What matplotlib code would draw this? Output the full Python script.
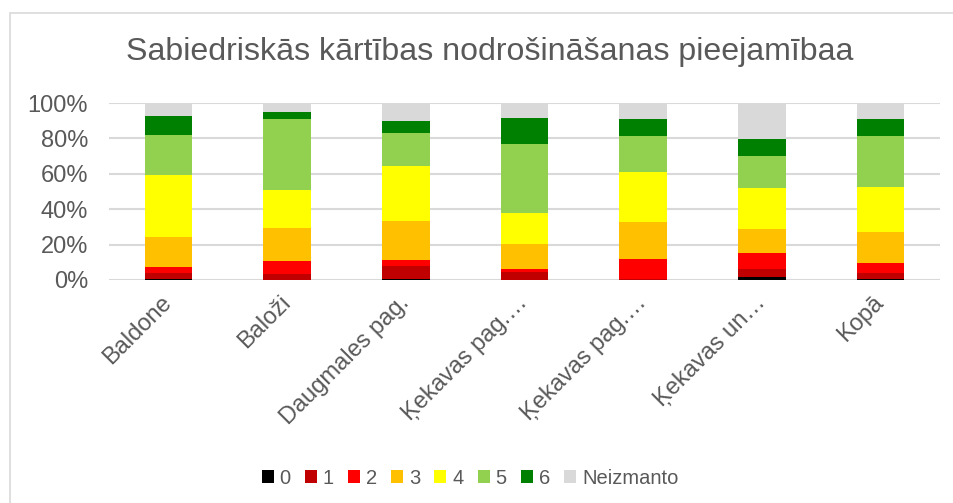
import matplotlib
matplotlib.use("Agg")
import matplotlib.pyplot as plt
from matplotlib.patches import Rectangle
import numpy as np

plt.rcParams['font.family'] = ['Liberation Sans', 'DejaVu Sans']

title = "Sabiedriskās kārtības nodrošināšanas pieejamībaa"
categories = ["Baldone", "Baloži", "Daugmales pag.", "Ķekavas pag.…",
              "Ķekavas pag.…", "Ķekavas un…", "Kopā"]
series_names = ["0", "1", "2", "3", "4", "5", "6", "Neizmanto"]
colors = ["#000000", "#C00000", "#FF0000", "#FFC000", "#FFFF00",
          "#92D050", "#008000", "#D9D9D9"]

# shares in percent, one list per answer grade
s0 = [0.8, 0.0, 0.8, 0.0, 0.0, 1.5, 0.6]
s1 = [3.0, 3.2, 7.0, 4.4, 0.5, 4.7, 3.4]
s2 = [3.8, 7.4, 3.4, 1.7, 11.4, 9.1, 5.7]
s3 = [16.8, 18.8, 21.9, 14.2, 20.7, 13.7, 17.6]
s4 = [34.9, 21.4, 31.1, 17.4, 28.4, 22.9, 25.4]
s5 = [22.5, 40.3, 18.8, 39.2, 20.6, 18.4, 28.4]
s6 = [11.0, 3.8, 6.6, 14.8, 9.1, 9.1, 9.6]
s_none = [7.2, 5.1, 10.4, 8.3, 9.3, 20.6, 9.3]
series = [s0, s1, s2, s3, s4, s5, s6, s_none]

W, H = 954, 503
fig = plt.figure(figsize=(W / 100, H / 100), dpi=100)
fig.patch.set_facecolor("white")

# chart frame
fig.patches.append(Rectangle((10 / W, -0.1), 1.2, 1 - 13 / H + 0.1,
                             transform=fig.transFigure, fill=False,
                             edgecolor="#D9D9D9", lw=1.2))

ax = fig.add_axes([109 / W, 223 / H, 831 / W, 177 / H])
x = np.arange(len(categories))
data = np.array(series) / 100.0
totals = data.sum(axis=0)
data = data / totals
bottom = np.zeros(len(categories))
for name, vals, c in zip(series_names, data, colors):
    ax.bar(x, vals, 0.4, bottom=bottom, color=c, label=name, linewidth=0)
    bottom += vals

ax.set_xlim(-0.5, len(categories) - 0.5)
ax.set_ylim(0, 1)
ax.set_yticks(np.arange(0, 1.01, 0.2))
ax.set_yticklabels([f"{int(round(v * 100))}%" for v in np.arange(0, 1.01, 0.2)])
ax.yaxis.grid(True, color="#D9D9D9", lw=1.5)
ax.set_axisbelow(True)
for sp in ax.spines.values():
    sp.set_visible(False)
ax.tick_params(axis="both", length=0, colors="#595959", labelsize=17)
ax.tick_params(axis="y", pad=15)
ax.tick_params(axis="x", pad=14)
ax.set_xticks(x)
ax.set_xticklabels(categories, rotation=45, ha="right", va="center",
                   rotation_mode="anchor")

fig.text(490 / W, 1 - 52 / H, title, ha="center", va="center",
         fontsize=23.1, color="#595959")

handles, labels = ax.get_legend_handles_labels()
leg = fig.legend(handles, labels, loc="center", bbox_to_anchor=(470 / W, 1 - 478 / H),
                 ncol=8, frameon=False, fontsize=14.5, handlelength=0.6,
                 handleheight=0.6, handletextpad=0.3, columnspacing=0.69,
                 labelcolor="#595959")

fig.savefig("out.png", dpi=100, facecolor="white")
